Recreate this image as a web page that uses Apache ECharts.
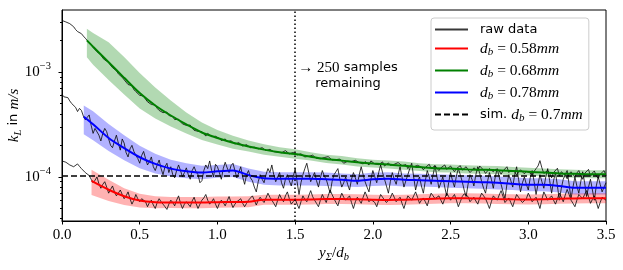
<!DOCTYPE html>
<html><head><meta charset="utf-8">
<script src="https://cdn.jsdelivr.net/npm/echarts@6/dist/echarts.min.js"></script>
<style>html,body{margin:0;padding:0;background:#fff}#c{width:623px;height:270px}</style>
</head><body><div id="c"></div>
<script>
// values in units of 1e-4 m/s
const UNIT = 1e-4;
const rawStep = 0.0125;
const rawG = [
 31.0,30.6,30.0,29.3,28.9,28.1,27.0,25.4,24.3,23.9,23.2,22.0,21.0,20.1,19.0,18.1,17.6,16.4,15.6,15.2,
 14.6,13.6,13.0,12.9,12.5,11.6,11.0,10.8,10.3,9.6,9.2,8.9,8.6,8.0,7.6,7.7,7.4,6.8,6.5,6.3,
 6.0,6.1,5.9,5.5,5.2,5.1,4.9,4.7,4.85,4.5,4.3,4.25,4.1,4.0,4.15,3.85,3.7,3.75,3.52,3.45,
 3.55,3.35,3.2,3.25,3.1,2.98,3.12,2.92,2.78,2.84,2.72,2.62,2.70,2.58,2.45,2.60,2.55,2.42,2.36,2.44,
 2.40,2.33,2.22,2.28,2.30,2.17,2.10,2.21,2.18,2.06,2.02,2.12,2.10,1.97,1.93,2.03,1.98,1.90,1.86,1.92,
 1.94,1.85,1.80,1.90,1.86,1.78,1.72,1.83,1.80,1.74,1.68,1.72,1.76,1.70,1.64,1.78,1.72,1.66,1.62,1.71,
 1.68,1.62,1.58,1.66,1.64,1.55,1.60,1.57,1.52,1.61,1.57,1.50,1.55,1.49,1.44,1.53,1.47,1.56,1.52,1.45,
 1.50,1.46,1.40,1.48,1.43,1.35,1.38,1.41,1.45,1.40,1.34,1.44,1.42,1.37,1.39,1.33,1.40,1.35,1.30,1.42,
 1.38,1.33,1.28,1.31,1.36,1.39,1.27,1.31,1.36,1.29,1.24,1.32,1.29,1.37,1.34,1.28,1.26,1.31,1.20,1.27,
 1.30,1.25,1.22,1.29,1.31,1.24,1.17,1.23,1.27,1.32,1.20,1.24,1.28,1.21,1.15,1.22,1.26,1.30,1.18,1.23,
 1.27,1.19,1.12,1.20,1.24,1.28,1.16,1.21,1.25,1.17,1.10,1.15,1.22,1.19,1.14,1.27,1.24,1.16,1.08,1.14,
 1.20,1.24,1.12,1.18,1.22,1.15,1.06,1.14,1.19,1.25,1.10,1.16,1.21,1.12,1.04,1.11,1.17,1.22,1.07,1.13,
 1.18,1.09,1.03,1.13,1.20,1.27,1.43,1.22,1.08,1.05,1.15,1.08,0.98,1.10,1.14,1.21,1.02,1.12,1.16,1.04,
 0.96,1.07,1.12,1.17,1.00,1.09,1.15,1.04,0.95,1.08,1.12,1.18,1.01,1.09,1.14,1.02,0.97,1.06,1.10,1.15,
 1.03
];
const rawB = [
 6.1,5.8,5.6,5.7,5.3,5.0,4.9,4.6,4.2,4.5,4.3,3.8,3.5,3.7,3.9,3.1,2.6,2.9,3.0,2.5,
 2.2,2.6,2.9,2.7,2.3,2.0,1.9,2.2,2.5,2.1,1.8,2.3,2.1,1.7,1.55,1.85,2.0,1.75,1.6,1.5,
 1.35,1.6,1.75,1.5,1.3,1.4,1.55,1.25,1.15,1.3,1.45,1.2,1.05,1.25,1.35,1.1,1.25,1.05,0.98,1.15,
 1.30,1.15,1.0,1.1,1.22,1.05,0.95,1.15,1.25,1.12,1.05,0.88,0.92,1.15,1.30,1.2,1.42,1.15,1.0,1.32,
 1.25,1.1,0.95,1.2,1.38,1.22,1.1,1.28,1.35,1.15,0.98,1.1,1.25,1.0,0.85,1.05,1.15,0.98,0.92,0.8,
 0.72,0.9,1.05,0.95,0.88,1.05,1.2,1.1,1.3,1.05,0.9,1.0,1.1,0.88,0.78,0.95,1.05,0.92,0.82,1.0,
 1.2,0.9,0.68,0.88,1.05,1.2,1.35,1.1,0.9,1.0,1.1,0.92,0.8,0.98,1.15,1.02,0.95,0.82,0.7,0.9,
 1.05,1.12,1.2,0.95,0.8,0.88,1.0,0.85,0.75,0.95,1.1,0.98,0.85,1.05,1.25,1.05,0.9,0.8,0.72,0.95,
 1.15,1.0,0.88,1.1,1.3,1.1,0.95,0.82,0.7,0.9,1.1,0.95,0.85,1.05,1.25,1.0,0.8,0.92,1.05,1.2,
 1.35,1.0,0.75,0.9,1.0,0.82,0.7,0.92,1.15,1.0,0.85,1.05,1.28,1.0,0.78,0.88,1.0,0.8,0.66,0.88,
 1.1,0.92,0.8,1.02,1.2,1.05,0.9,0.75,0.65,0.85,1.05,0.95,0.82,1.05,1.25,1.08,0.9,0.78,0.7,0.9,
 1.1,0.95,0.78,1.0,1.2,1.0,0.85,0.72,0.62,0.85,1.05,0.92,0.8,1.05,1.25,0.95,0.72,0.88,1.0,0.85,
 0.75,0.98,1.15,0.9,0.68,0.85,1.05,0.9,0.78,1.0,1.2,0.92,0.7,0.92,1.1,0.82,0.6,0.78,0.95,1.05,
 1.15,0.85,0.62,0.8,1.0,0.82,0.7,0.9,1.12,0.88,0.65,0.8,0.95,0.75,0.6,0.82,1.0,0.85,0.72,0.8,
 0.88
];
const rawR = [
 1.42,1.44,1.38,1.33,1.30,1.28,1.25,1.30,1.33,1.26,1.20,1.15,1.10,1.07,1.03,0.95,0.88,0.93,1.00,0.86,
 0.78,0.85,0.90,0.80,0.70,0.76,0.82,0.72,0.66,0.70,0.75,0.68,0.62,0.66,0.72,0.62,0.55,0.60,0.68,0.62,
 0.58,0.62,0.64,0.58,0.52,0.57,0.60,0.54,0.50,0.57,0.62,0.58,0.55,0.52,0.49,0.55,0.60,0.57,0.53,0.60,
 0.66,0.56,0.50,0.55,0.58,0.55,0.52,0.59,0.64,0.56,0.50,0.55,0.60,0.63,0.68,0.60,0.55,0.58,0.62,0.55,
 0.50,0.56,0.60,0.57,0.53,0.59,0.65,0.57,0.51,0.55,0.58,0.60,0.62,0.56,0.52,0.56,0.60,0.63,0.66,0.60,
 0.54,0.60,0.64,0.60,0.57,0.63,0.70,0.64,0.60,0.56,0.52,0.60,0.68,0.62,0.58,0.66,0.72,0.62,0.55,0.58,
 0.62,0.55,0.50,0.58,0.66,0.61,0.58,0.66,0.74,0.65,0.60,0.56,0.52,0.60,0.68,0.62,0.57,0.66,0.75,0.68,
 0.62,0.57,0.53,0.62,0.70,0.64,0.60,0.63,0.66,0.57,0.50,0.58,0.64,0.60,0.56,0.64,0.72,0.65,0.58,0.61,
 0.63,0.57,0.52,0.60,0.68,0.64,0.60,0.57,0.55,0.63,0.70,0.64,0.58,0.61,0.64,0.56,0.50,0.58,0.66,0.63,
 0.60,0.66,0.72,0.64,0.56,0.60,0.63,0.58,0.53,0.62,0.70,0.66,0.62,0.64,0.66,0.60,0.55,0.62,0.70,0.65,
 0.60,0.64,0.68,0.60,0.52,0.58,0.65,0.69,0.72,0.65,0.58,0.61,0.64,0.59,0.55,0.63,0.70,0.66,0.62,0.56,
 0.50,0.58,0.66,0.63,0.60,0.67,0.74,0.65,0.57,0.60,0.63,0.57,0.52,0.60,0.68,0.64,0.60,0.57,0.55,0.62,
 0.70,0.64,0.58,0.61,0.64,0.57,0.50,0.61,0.72,0.66,0.60,0.63,0.66,0.60,0.55,0.62,0.70,0.64,0.58,0.67,
 0.76,0.68,0.60,0.56,0.52,0.60,0.68,0.65,0.62,0.68,0.74,0.65,0.56,0.61,0.66,0.58,0.50,0.57,0.64,0.62,
 0.60
];

const greenFitX = [0.16, 0.2, 0.3, 0.4, 0.5, 0.6, 0.7, 0.8, 0.9, 1.0, 1.1, 1.2, 1.3, 1.4, 1.5, 1.6, 1.7, 1.8, 1.9, 2.0, 2.1, 2.2, 2.3, 2.4, 2.5, 2.6, 2.7, 2.8, 2.9, 3.0, 3.1, 3.2, 3.3, 3.4, 3.5];
const greenFit = [20, 17.4, 12.4, 8.8, 6.3, 4.8, 3.85, 3.17, 2.65, 2.35, 2.12, 1.95, 1.82, 1.72, 1.65, 1.56, 1.48, 1.43, 1.38, 1.34, 1.31, 1.28, 1.24, 1.21, 1.20, 1.18, 1.17, 1.16, 1.14, 1.12, 1.10, 1.08, 1.07, 1.06, 1.06];
const greenHi = [25.8, 23.6, 19.2, 13.9, 9.8, 7.1, 5.35, 4.12, 3.3, 2.8, 2.47, 2.22, 2.05, 1.92, 1.84, 1.72, 1.63, 1.58, 1.51, 1.46, 1.43, 1.40, 1.35, 1.32, 1.31, 1.29, 1.28, 1.27, 1.24, 1.22, 1.20, 1.18, 1.17, 1.16, 1.16];
const greenLo = [13.8, 11.7, 8.4, 6.1, 4.5, 3.6, 3.03, 2.6, 2.25, 2.04, 1.86, 1.75, 1.63, 1.56, 1.49, 1.43, 1.36, 1.31, 1.26, 1.23, 1.20, 1.17, 1.14, 1.11, 1.10, 1.08, 1.07, 1.06, 1.04, 1.03, 1.01, 0.99, 0.98, 0.97, 0.97];

const blueFitX = [0.14, 0.2, 0.3, 0.4, 0.5, 0.6, 0.7, 0.8, 0.9, 1.0, 1.1, 1.2, 1.3, 1.4, 1.5, 1.6, 1.7, 1.8, 1.9, 2.0, 2.1, 2.2, 2.3, 2.4, 2.5, 2.6, 2.7, 2.8, 2.9, 3.0, 3.1, 3.2, 3.3, 3.4, 3.5];
const blueFit = [3.75, 3.18, 2.35, 1.88, 1.54, 1.33, 1.20, 1.13, 1.10, 1.13, 1.15, 1.04, 0.97, 0.96, 0.96, 0.96, 0.95, 0.94, 0.92, 0.95, 0.96, 0.94, 0.93, 0.92, 0.91, 0.90, 0.89, 0.88, 0.86, 0.84, 0.84, 0.82, 0.79, 0.79, 0.79];
const blueHi = [4.8, 4.23, 3.19, 2.50, 1.98, 1.66, 1.46, 1.35, 1.28, 1.30, 1.33, 1.20, 1.12, 1.11, 1.11, 1.11, 1.10, 1.08, 1.06, 1.10, 1.11, 1.08, 1.07, 1.06, 1.05, 1.04, 1.03, 1.01, 0.99, 0.97, 0.97, 0.95, 0.91, 0.91, 0.91];
const blueLo = [2.55, 2.24, 1.77, 1.44, 1.21, 1.08, 1.01, 0.97, 0.95, 0.98, 1.00, 0.90, 0.84, 0.83, 0.83, 0.83, 0.82, 0.81, 0.80, 0.82, 0.83, 0.81, 0.81, 0.80, 0.79, 0.78, 0.77, 0.76, 0.75, 0.73, 0.73, 0.71, 0.68, 0.68, 0.68];

const redFitX = [0.19, 0.3, 0.4, 0.5, 0.6, 0.7, 0.8, 0.9, 1.0, 1.1, 1.2, 1.3, 1.4, 1.5, 1.6, 1.7, 1.8, 1.9, 2.0, 2.1, 2.2, 2.3, 2.4, 2.5, 2.6, 2.7, 2.8, 2.9, 3.0, 3.1, 3.2, 3.3, 3.4, 3.5];
const redFit = [0.916, 0.755, 0.655, 0.595, 0.574, 0.570, 0.569, 0.569, 0.575, 0.577, 0.580, 0.605, 0.605, 0.605, 0.610, 0.615, 0.617, 0.612, 0.607, 0.604, 0.606, 0.612, 0.620, 0.626, 0.626, 0.622, 0.616, 0.612, 0.610, 0.614, 0.620, 0.624, 0.626, 0.627];
const redHi = [1.17, 0.94, 0.78, 0.69, 0.655, 0.643, 0.642, 0.642, 0.649, 0.651, 0.654, 0.675, 0.675, 0.675, 0.681, 0.686, 0.689, 0.683, 0.677, 0.674, 0.676, 0.683, 0.692, 0.699, 0.699, 0.694, 0.687, 0.683, 0.681, 0.685, 0.692, 0.696, 0.699, 0.700];
const redLo = [0.674, 0.59, 0.54, 0.51, 0.503, 0.505, 0.504, 0.504, 0.509, 0.511, 0.514, 0.542, 0.542, 0.542, 0.547, 0.551, 0.553, 0.548, 0.544, 0.541, 0.543, 0.548, 0.556, 0.561, 0.561, 0.557, 0.552, 0.548, 0.547, 0.550, 0.556, 0.559, 0.561, 0.562];

const simX = [0, 3.5];
const simY = [1.02, 1.02];
const cutoffX = 1.5;
const yMajorTicks = [1e-4, 1e-3];
const yMinorTicks = [4e-5, 5e-5, 6e-5, 7e-5, 8e-5, 9e-5, 2e-4, 3e-4, 4e-4, 5e-4, 6e-4, 7e-4, 8e-4, 9e-4, 2e-3, 3e-3];
const yMin = 3.8e-5, yMax = 3.9e-3;

const legendNames = ['raw data', 'db058', 'db068', 'db078', 'sim'];
const legendLabels = {
  'raw data': '{s|raw data}',
  'db058': '{i|d}{sub|b}{m| = 0.58}{i|mm}',
  'db068': '{i|d}{sub|b}{m| = 0.68}{i|mm}',
  'db078': '{i|d}{sub|b}{m| = 0.78}{i|mm}',
  'sim': '{s|sim. }{i|d}{sub|b}{m| = 0.7}{i|mm}'
};

const SERIF = 'Liberation Serif';
const SANS = 'DejaVu Sans';
const SOLID_ICON = 'path://M0,0H33V2H0Z';
const DASH_ICON = 'path://M0,0H6V2H0ZM9,0H15V2H9ZM18,0H24V2H18ZM27,0H33V2H27Z';

function pairs(xs, ys) { return xs.map((x, i) => [x, ys[i] * UNIT]); }
function rawPairs(ys) { return ys.map((v, i) => [+(i * rawStep).toFixed(4), v * UNIT]); }

function band(xs, lo, hi, color) {
  return {
    type: 'custom', silent: true, z: 1, clip: true,
    data: xs.map((x, i) => [x, lo[i] * UNIT, hi[i] * UNIT]),
    encode: { x: 0, y: [1, 2] },
    renderItem: (params, api) => {
      if (params.dataIndex !== 0) return null;
      const up = xs.map((x, i) => api.coord([x, hi[i] * UNIT]));
      const dn = xs.map((x, i) => api.coord([x, lo[i] * UNIT])).reverse();
      return { type: 'polygon', shape: { points: up.concat(dn) }, style: { fill: color } };
    }
  };
}

const RAW_COLOR = 'rgba(0,0,0,0.78)';
function raw(ys) {
  return { name: 'raw data', type: 'line', data: rawPairs(ys), symbol: 'none', color: RAW_COLOR,
    lineStyle: { color: RAW_COLOR, width: 1 }, z: 2 };
}
function fit(name, xs, ys, color) {
  return { name: name, type: 'line', data: pairs(xs, ys), symbol: 'none', smooth: 0.3, color: color,
    lineStyle: { color: color, width: 2 }, z: 3 };
}

const chart = echarts.init(document.getElementById('c'), null, { renderer: 'canvas' });
const richMath = {
  i: { fontFamily: SERIF, fontStyle: 'italic', fontSize: 15.5, color: '#000', lineHeight: 16 },
  m: { fontFamily: SERIF, fontSize: 15.5, color: '#000', lineHeight: 16 },
  sub: { fontFamily: SERIF, fontStyle: 'italic', fontSize: 11, color: '#000', lineHeight: 11, padding: [8, 0, 0, 0] },
  s: { fontFamily: SANS, fontSize: 13, color: '#000', lineHeight: 16 }
};

const option = {
  animation: false,
  backgroundColor: '#fff',
  grid: { left: 62, right: 17, top: 10, bottom: 49, show: true, borderColor: '#000', borderWidth: 1,
    backgroundColor: 'transparent', containLabel: false, outerBoundsMode: 'none' },
  legend: {
    data: legendNames.map(n => ({ name: n, icon: n === 'sim' ? DASH_ICON : SOLID_ICON })),
    orient: 'vertical', left: 431, top: 18,
    padding: [5, 6, 6, 4], itemGap: 3, itemWidth: 33, itemHeight: 14,
    backgroundColor: 'rgba(255,255,255,0.85)', borderColor: '#cccccc', borderWidth: 1, borderRadius: 3,
    formatter: n => legendLabels[n],
    textStyle: { padding: [0, 0, 0, 7], rich: richMath },
    selectedMode: false
  },
  xAxis: {
    type: 'value', min: 0, max: 3.5, interval: 0.5,
    axisLine: { show: true, lineStyle: { color: '#000', width: 1 } },
    axisTick: { show: true, length: 3.5, lineStyle: { color: '#000' } },
    axisLabel: { color: '#000', fontFamily: SERIF, fontSize: 15, margin: 7, formatter: v => v.toFixed(1) },
    splitLine: { show: false },
    name: '{i|y}{sub|Σ}{m|/}{i|d}{sub|b}', nameLocation: 'middle', nameGap: 24, nameMoveOverlap: false,
    nameTextStyle: { rich: {
      i: { fontFamily: SERIF, fontStyle: 'italic', fontSize: 15, color: '#000', lineHeight: 16 },
      m: { fontFamily: SERIF, fontSize: 15, color: '#000', lineHeight: 16 },
      sub: { fontFamily: SERIF, fontStyle: 'italic', fontSize: 10.5, color: '#000', lineHeight: 11, padding: [8, 0, 0, 0] }
    } }
  },
  yAxis: [{
    type: 'log', logBase: 10, min: yMin, max: yMax,
    axisLine: { show: true, lineStyle: { color: '#000', width: 1 } },
    axisTick: { show: true, length: 3.5, lineStyle: { color: '#000' }, customValues: yMajorTicks },
    axisLabel: { color: '#000', margin: 11, customValues: yMajorTicks,
      formatter: v => '{b|10}{e|−' + Math.round(-Math.log10(v)) + '}',
      rich: {
        b: { fontFamily: SERIF, fontSize: 15, color: '#000', lineHeight: 16 },
        e: { fontFamily: SERIF, fontSize: 10.5, color: '#000', lineHeight: 11, padding: [0, 0, 12, 0] }
      } },
    splitLine: { show: false }, minorTick: { show: false },
    name: '{i|k}{sub|L}{s| in }{i|m/s}', nameLocation: 'middle', nameGap: 40, nameMoveOverlap: false,
    nameTextStyle: { rich: {
      i: { fontFamily: SERIF, fontStyle: 'italic', fontSize: 15, color: '#000', lineHeight: 16 },
      s: { fontFamily: SANS, fontSize: 13, color: '#000', lineHeight: 16 },
      sub: { fontFamily: SERIF, fontStyle: 'italic', fontSize: 10.5, color: '#000', lineHeight: 11, padding: [8, 0, 0, 0] }
    } }
  }, {
    type: 'log', logBase: 10, min: yMin, max: yMax, position: 'left', offset: 0,
    axisLine: { show: false },
    axisTick: { show: true, length: 2, lineStyle: { color: '#000' }, customValues: yMinorTicks },
    axisLabel: { show: false, customValues: [] },
    splitLine: { show: false }
  }],
  series: [
    band(greenFitX, greenLo, greenHi, 'rgba(0,128,0,0.3)'),
    band(blueFitX, blueLo, blueHi, 'rgba(0,0,255,0.3)'),
    band(redFitX, redLo, redHi, 'rgba(255,0,0,0.3)'),
    raw(rawG), raw(rawB), raw(rawR),
    fit('db058', redFitX, redFit, '#ff0000'),
    fit('db068', greenFitX, greenFit, '#008000'),
    fit('db078', blueFitX, blueFit, '#0000ff'),
    { name: 'sim', type: 'line', data: pairs(simX, simY), symbol: 'none', color: '#000',
      lineStyle: { color: '#000', width: 1.5, type: [6, 3] }, z: 4,
      markLine: { silent: true, symbol: 'none', label: { show: false },
        lineStyle: { color: '#000', width: 1.5, type: [1.5, 2.5] },
        data: [{ xAxis: cutoffX }] },
      markPoint: { silent: true, symbol: 'circle', symbolSize: 0,
        data: [{ coord: [1.84, 9.2e-4],
          label: { show: true, position: 'inside', align: 'center', verticalAlign: 'middle',
            formatter: '{a|→ }{n|250}{s| samples}\n{s|remaining}',
            rich: {
              a: { fontFamily: SERIF, fontSize: 15, color: '#000', lineHeight: 16 },
              n: { fontFamily: SERIF, fontSize: 15, color: '#000', lineHeight: 16 },
              s: { fontFamily: SANS, fontSize: 13, color: '#000', lineHeight: 16 }
            } } }] } }
  ]
};
chart.setOption(option);
</script></body></html>
